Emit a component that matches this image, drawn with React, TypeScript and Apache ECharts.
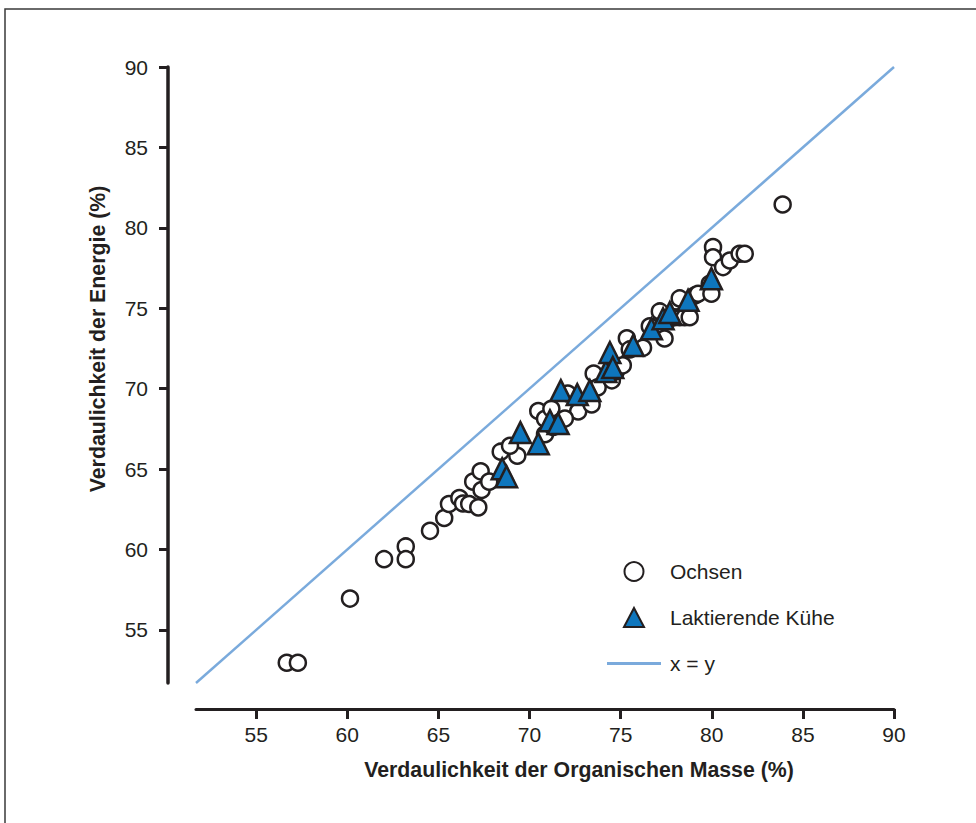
import React, { useEffect, useRef } from "react";
import * as echarts from "echarts";

const xTicks = [55, 60, 65, 70, 75, 80, 85, 90];
const yTicks = [55, 60, 65, 70, 75, 80, 85, 90];

const ochsenX = [56.68, 57.29, 60.15, 62.02, 63.21, 63.21, 64.54, 65.32, 65.58, 66.15, 66.35, 66.69, 67.19, 66.91, 67.32, 67.37, 67.79, 68.42, 69.33, 68.93, 70.48, 70.85, 71.2, 70.85, 71.3, 72.1, 72.67, 73.41, 73.52, 73.74, 74.52, 74.74, 75.12, 75.34, 75.5, 76.23, 76.6, 77.15, 77.41, 77.69, 77.96, 78.24, 78.51, 78.79, 78.24, 79.07, 79.25, 79.89, 79.98, 80.07, 80.07, 80.62, 80.99, 81.53, 81.81, 83.89, 71.94];
const ochsenY = [52.96, 52.96, 56.95, 59.4, 60.19, 59.4, 61.16, 61.96, 62.83, 63.2, 62.86, 62.83, 62.62, 64.22, 64.86, 63.7, 64.22, 66.08, 65.83, 66.45, 68.61, 68.13, 68.75, 67.17, 67.62, 69.7, 68.58, 69.02, 70.94, 70.08, 70.52, 71.08, 71.45, 73.13, 72.44, 72.54, 73.88, 74.8, 73.12, 74.36, 74.44, 74.44, 74.44, 74.44, 75.61, 75.8, 75.9, 76.52, 75.9, 78.8, 78.17, 77.56, 77.97, 78.39, 78.39, 81.45, 68.14];

const kueheX = [68.5, 68.74, 69.5, 70.48, 71.12, 71.57, 71.72, 72.62, 73.31, 74.19, 74.41, 74.57, 75.69, 76.69, 77.33, 77.7, 78.7, 79.98];
const kueheY = [65.02, 64.53, 67.27, 66.58, 68.01, 67.83, 69.88, 69.63, 69.88, 71.06, 72.25, 71.31, 72.68, 73.72, 74.35, 74.74, 75.49, 76.84];

const identityLine = [51.7, 90];

const seriesNames = ["Ochsen", "Laktierende Kühe", "x = y"];

const FONT = "'Liberation Sans', Arial, Helvetica, sans-serif";
const INK = "#231f20";

export default function App() {
  const ref = useRef<HTMLDivElement>(null);

  useEffect(() => {
    if (!ref.current) return;
    const chart = echarts.init(ref.current, null, { renderer: "svg" });

    const ochsen = ochsenX.map((x, i) => [x, ochsenY[i]]);
    const kuehe = kueheX.map((x, i) => [x, kueheY[i]]);
    const line = identityLine.map((v) => [v, v]);

    chart.setOption({
      animation: false,
      backgroundColor: "#ffffff",
      textStyle: { fontFamily: FONT },
      graphic: [
        {
          type: "rect",
          shape: { x: 5, y: 9, width: 1100, height: 1000 },
          style: { fill: "none", stroke: "#3a3a3a", lineWidth: 1.5 },
          silent: true,
          z: -10,
        },
      ],
      grid: { left: 196, right: 82, top: 67, bottom: 140 },
      legend: {
        orient: "vertical",
        left: 602,
        top: 556,
        itemWidth: 54,
        itemHeight: 19,
        itemGap: 25,
        symbolKeepAspect: true,
        data: [
          { name: seriesNames[0], icon: "circle" },
          { name: seriesNames[1], icon: "path://M10,0L20,19L0,19Z" },
          { name: seriesNames[2], icon: "path://M0,0L54,0L54,3L0,3Z" },
        ],
        textStyle: { fontSize: 21, color: INK, fontFamily: FONT, padding: [0, 0, 0, 4] },
        selectedMode: false,
      },
      xAxis: {
        type: "value",
        min: 51.7,
        max: 90,
        offset: 26,
        splitLine: { show: false },
        axisLine: { show: true, onZero: false, lineStyle: { color: INK, width: 3 } },
        axisTick: { show: true, length: 10, customValues: xTicks, lineStyle: { color: INK, width: 3 } },
        axisLabel: { customValues: xTicks, fontSize: 21, color: INK, margin: 15, fontFamily: FONT },
        name: "Verdaulichkeit der Organischen Masse (%)",
        nameLocation: "middle",
        nameGap: 50,
        nameTextStyle: { fontSize: 21.3, fontWeight: "bold", color: INK, fontFamily: FONT, padding: [0, 0, 0, 68] },
      },
      yAxis: {
        type: "value",
        min: 51.7,
        max: 90,
        offset: 28,
        splitLine: { show: false },
        axisLine: { show: true, onZero: false, lineStyle: { color: INK, width: 3.5 } },
        axisTick: { show: true, length: 9, customValues: yTicks, lineStyle: { color: INK, width: 3 } },
        axisLabel: { customValues: yTicks, fontSize: 21, color: INK, margin: 20, fontFamily: FONT },
        name: "Verdaulichkeit der Energie (%)",
        nameLocation: "middle",
        nameGap: 60,
        nameTextStyle: { fontSize: 21.3, fontWeight: "bold", color: INK, fontFamily: FONT, padding: [0, 0, 0, 72] },
      },
      series: [
        {
          name: seriesNames[2],
          type: "line",
          data: line,
          symbol: "none",
          lineStyle: { color: "#7aaadc", width: 2.5 },
          itemStyle: { color: "#7aaadc", borderWidth: 0 },
          z: 1,
        },
        {
          name: seriesNames[0],
          type: "scatter",
          data: ochsen,
          symbol: "circle",
          symbolSize: 16,
          itemStyle: { color: "#ffffff", borderColor: INK, borderWidth: 2.5, opacity: 1 },
          z: 2,
        },
        {
          name: seriesNames[1],
          type: "scatter",
          data: kuehe,
          symbol: "triangle",
          symbolSize: 21,
          itemStyle: { color: "#0e76bd", borderColor: INK, borderWidth: 2.5, opacity: 1 },
          z: 3,
        },
      ],
    });

    return () => chart.dispose();
  }, []);

  return (
    <div
      ref={ref}
      style={{ position: "fixed", left: 0, top: 0, width: 976, height: 823, background: "#fff" }}
    />
  );
}
